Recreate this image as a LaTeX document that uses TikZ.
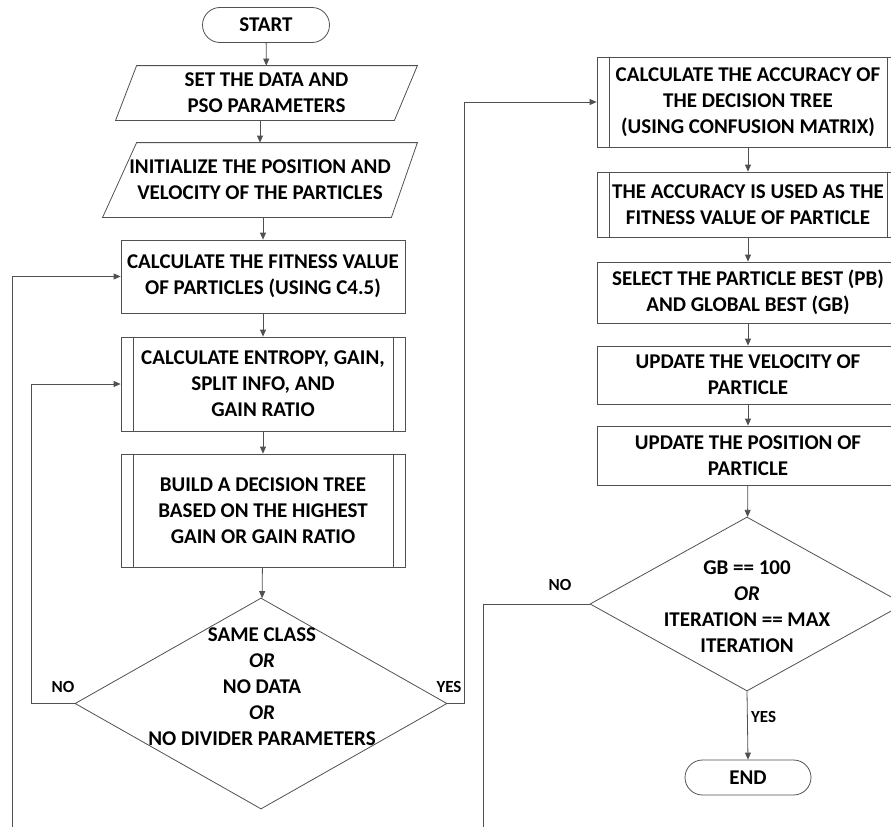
\documentclass[tikz,border=0pt]{standalone}
\usepackage{fontspec}
\setmainfont{Carlito}
\usetikzlibrary{shapes.geometric,shapes.misc,arrows.meta}
\definecolor{linegray}{RGB}{80,80,80}
\tikzset{
  base/.style={draw=linegray, line width=0.8pt, align=center, text=black,
    font=\fontsize{21}{26}\selectfont\bfseries},
  term/.style={base, rounded rectangle, minimum height=35pt, inner sep=0pt},
  io/.style={base, draw=none, rectangle, inner sep=0pt},
  edge/.style={draw=linegray, line width=0.8pt},
  proc/.style={base, rectangle, minimum width=302pt, inner sep=0pt},
  subproc/.style={proc, path picture={
    \draw[linegray, line width=0.8pt]
      ([xshift=12pt]path picture bounding box.north west) -- ([xshift=12pt]path picture bounding box.south west)
      ([xshift=-12pt]path picture bounding box.north east) -- ([xshift=-12pt]path picture bounding box.south east);}},
  decision/.style={base, diamond, inner sep=0pt},
  dtext/.style={align=center, font=\fontsize{21}{26}\selectfont\bfseries},
  arr/.style={edge, -{Triangle[length=7pt,width=6pt]}},
  lbl/.style={font=\fontsize{17}{20}\selectfont\bfseries}
}
\begin{document}
\begin{tikzpicture}[x=1pt,y=-1pt]
\clip (0,0) rectangle (891,827);
% left column
\node[term, minimum width=127pt] (start) at (266,25) {START};
\node[io, minimum width=301pt, minimum height=54pt] (setp) at (266.5,93) {SET THE DATA AND\\PSO PARAMETERS};
\draw[edge] ([xshift=21pt]setp.north west) -- (setp.north east) -- ([xshift=-23pt]setp.south east) -- (setp.south west) -- cycle;
\node[io, minimum width=314pt, minimum height=74pt] (init) at (260,180) {INITIALIZE THE POSITION AND\\VELOCITY OF THE PARTICLES};
\draw[edge] ([xshift=34pt]init.north west) -- (init.north east) -- ([xshift=-26pt]init.south east) -- (init.south west) -- cycle;
\node[proc, minimum width=284pt, minimum height=73pt] (fit) at (263,276.5) {CALCULATE THE FITNESS VALUE\\OF PARTICLES (USING C4.5)};
\node[subproc, minimum width=284pt, minimum height=94pt] (ent) at (263,384) {CALCULATE ENTROPY, GAIN,\\SPLIT INFO, AND\\GAIN RATIO};
\node[subproc, minimum width=284pt, minimum height=113pt] (build) at (263,510.5) {BUILD A DECISION TREE\\BASED ON THE HIGHEST\\GAIN OR GAIN RATIO};
\node[decision, minimum width=372pt, minimum height=211pt] (same) at (261,703.5) {};
\node[dtext] (samet) at (262,687) {SAME CLASS\\\textit{OR}\\NO DATA\\\textit{OR}\\NO DIVIDER PARAMETERS};
% right column
\node[subproc, minimum height=90pt] (acc) at (748,102) {CALCULATE THE ACCURACY OF\\THE DECISION TREE\\(USING CONFUSION MATRIX)};
\node[subproc, minimum height=65pt] (fitv) at (748,204.5) {THE ACCURACY IS USED AS THE\\FITNESS VALUE OF PARTICLE};
\node[proc, minimum height=61pt] (sel) at (748,292.5) {SELECT THE PARTICLE BEST (PB)\\AND GLOBAL BEST (GB)};
\node[proc, minimum height=58pt] (vel) at (748,375) {UPDATE THE VELOCITY OF\\PARTICLE};
\node[proc, minimum height=59pt] (pos) at (748,455.5) {UPDATE THE POSITION OF\\PARTICLE};
\node[decision, minimum width=314pt, minimum height=174pt] (stop) at (747,604) {};
\node[dtext] (stopt) at (747,607) {GB == 100\\\textit{OR}\\ITERATION == MAX\\ITERATION};
\node[term, minimum width=126pt] (end) at (748,777.5) {END};
% labels
\node[lbl] (no1) at (63,687) {NO};
\node[lbl] (yes1) at (449,687) {YES};
\node[lbl] (no2) at (560,585) {NO};
\coordinate (loopl) at (12,827);
\coordinate (loopr) at (483,827);
% connectors
\draw[arr] (start) -- (setp);
\draw[arr] (init.north |- setp.south) -- (init.north);
\draw[arr] (fit.north |- init.south) -- (fit.north);
\draw[arr] (fit) -- (ent);
\draw[arr] (ent) -- (build);
\draw[arr] (build) -- (same);
\draw[arr] (same.west) -- ++(-43,0) |- (ent.west);
\draw[arr] (loopl) |- (fit.west);
\draw[arr] (same.east) -- ++(17,0) |- (acc.west);
\draw[arr] (acc) -- (fitv);
\draw[arr] (fitv) -- (sel);
\draw[arr] (sel) -- (vel);
\draw[arr] (vel) -- (pos);
\draw[arr] (pos) -- (stop);
\draw[edge] (stop.west) -| (loopr);
\draw[arr] (stop.south) -- node[lbl, right, pos=0.38] {YES} (end.north);
\end{tikzpicture}
\end{document}
